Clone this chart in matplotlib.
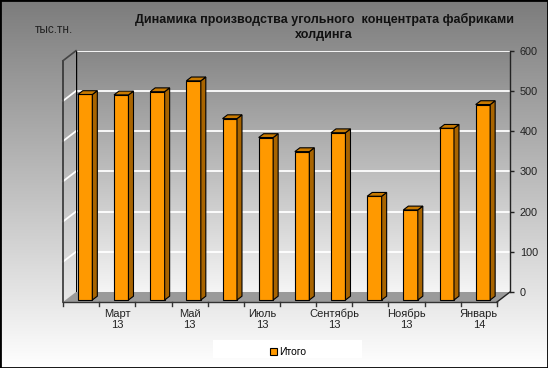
import numpy as np
import matplotlib
matplotlib.use('Agg')
import matplotlib.pyplot as plt
from matplotlib.colors import LinearSegmentedColormap
from matplotlib.transforms import ScaledTranslation
from matplotlib.patches import Polygon, Rectangle

plt.rcParams['font.family'] = ['Liberation Sans', 'DejaVu Sans']

months = ['Февраль', 'Март', 'Апрель', 'Май', 'Июнь', 'Июль', 'Август',
          'Сентябрь', 'Октябрь', 'Ноябрь', 'Декабрь', 'Январь']
years = ['13'] * 11 + ['14']
values = [511, 510, 518, 545, 451, 404, 369, 416, 258, 224, 427, 486]
yticks = [0, 100, 200, 300, 400, 500, 600]
series_name = 'Итого'
title = 'Динамика производства угольного  концентрата фабриками\nхолдинга'
unit = 'тыс.тн.'

W, H = 548, 368
fig = plt.figure(figsize=(W / 100, H / 100), dpi=100)

# figure background gradient
bg = fig.add_axes([0, 0, 1, 1], zorder=-5)
bg.imshow(np.linspace(0, 1, 256)[:, None],
          cmap=LinearSegmentedColormap.from_list('bg', ['#7c7c7c', '#ffffff']),
          aspect='auto', extent=(0, 1, 0, 1))
bg.set_axis_off()

# back wall in pixels
x0, x1, ytop, ybot = 76, 510, 50.7, 292
ax = fig.add_axes([x0 / W, 1 - ybot / H, (x1 - x0) / W, (ybot - ytop) / H])
ax.set_facecolor('none')
n = len(values)
x = np.arange(n)
ux = (x1 - x0) / n
uy = (ybot - ytop) / 600


def shift(dx, dy):
    return ax.transData + ScaledTranslation(dx / 100, dy / 100, fig.dpi_scale_trans)


# depth offsets (pixels)
fdx, fdy = -13, -10     # floor front
bdx, bdy = -9, -8       # bar front
ddx, ddy = 5, 3.8       # bar depth

ax.imshow(np.linspace(0, 1, 256)[:, None],
          cmap=LinearSegmentedColormap.from_list('wall', ['#868686', '#f5f5f5']),
          aspect='auto', extent=(-0.5, n - 0.5, 0, 600), zorder=0)

for t in yticks[1:]:
    ax.axhline(t, color='white', lw=1.3, zorder=1)
    if t < 600:
        ax.plot([-0.5, -0.5 + fdx / ux], [t, t + fdy / uy], color='white', lw=1.3,
                clip_on=False, zorder=1)

# left wall edges
ax.plot([-0.5, -0.5], [0, 600], color='black', lw=1, zorder=2)
ax.plot([-0.5 + fdx / ux] * 2, [fdy / uy, 600 + fdy / uy], color='#333333', lw=1.2,
        clip_on=False, zorder=2)
ax.plot([-0.5, -0.5 + fdx / ux], [600, 600 + fdy / uy], color='#444444', lw=1.2,
        clip_on=False, zorder=2)

# floor
floor = Polygon([(-0.5, 0), (n - 0.5, 0), (n - 0.5 + fdx / ux, fdy / uy),
                 (-0.5 + fdx / ux, fdy / uy)], closed=True, facecolor='#9a9a9a',
                edgecolor='none', clip_on=False, zorder=2)
ax.add_patch(floor)
ax.plot([-0.5 + fdx / ux, n - 0.5 + fdx / ux], [fdy / uy] * 2, color='#333333', lw=1,
        clip_on=False, zorder=2)
ax.plot([n - 0.5, n - 0.5 + fdx / ux], [0, fdy / uy], color='#222222', lw=1,
        clip_on=False, zorder=2)
for k in range(n + 1):
    ax.plot([k - 0.5] * 2, [0, -4 / uy], transform=shift(fdx, fdy), color='#333333',
            lw=1, clip_on=False, zorder=2)

# bars
bw = 0.4
bars = ax.bar(x, values, width=bw, color='#ff9900', edgecolor='black', lw=0.8,
              transform=shift(bdx, bdy), zorder=3, clip_on=False)
for xi, v in zip(x, values):
    side = [(xi + bw / 2, 0), (xi + bw / 2, v), (xi + bw / 2 + ddx / ux, v + ddy / uy),
            (xi + bw / 2 + ddx / ux, ddy / uy)]
    top = [(xi - bw / 2, v), (xi + bw / 2, v), (xi + bw / 2 + ddx / ux, v + ddy / uy),
           (xi - bw / 2 + ddx / ux, v + ddy / uy)]
    ax.add_patch(Polygon(side, closed=True, facecolor='#a86400', edgecolor='black', lw=0.8,
                         transform=shift(bdx, bdy), clip_on=False, zorder=3))
    ax.add_patch(Polygon(top, closed=True, facecolor='#c97a00', edgecolor='black', lw=0.8,
                         transform=shift(bdx, bdy), clip_on=False, zorder=3))

ax.set_xlim(-0.5, n - 0.5)
ax.set_ylim(0, 600)
for s in ['left', 'top', 'bottom']:
    ax.spines[s].set_visible(False)
ax.spines['right'].set_color('#222222')
ax.spines['right'].set_linewidth(1)
ax.yaxis.tick_right()
ax.set_yticks(yticks)
ax.tick_params(axis='y', length=3, width=1, pad=4, labelsize=7.8, color='#222222',
               labelcolor='#222222')
ax.set_xticks([])

for i in range(1, n, 2):
    ax.text(i, 0, f'{months[i]}\n{years[i]}', transform=shift(fdx, -17), ha='center',
            va='top', fontsize=8, linespacing=1.12, color='#222222')

fig.text(324 / W, 1 - 13 / H, title, ha='center', va='top', fontsize=9,
         fontweight='bold', linespacing=1.3, color='#111111')
fig.text(35 / W, 1 - 24 / H, unit, fontsize=8.5, va='top', color='#222222')

fig.patches.append(Rectangle((213 / W, 1 - 358 / H), 149 / W, 18 / H,
                             transform=fig.transFigure, facecolor='white',
                             edgecolor='none', zorder=0))
fig.legend([bars], [series_name], loc='center', bbox_to_anchor=(288 / W, 1 - 352 / H),
           frameon=False, fontsize=7.5, handlelength=0.7, handleheight=0.7,
           handletextpad=0.2, borderpad=0)

fig.patches.append(Rectangle((0, 0), 1, 1, transform=fig.transFigure, fill=False,
                             edgecolor='black', lw=2, zorder=10))

fig.savefig('out.png', dpi=100)
